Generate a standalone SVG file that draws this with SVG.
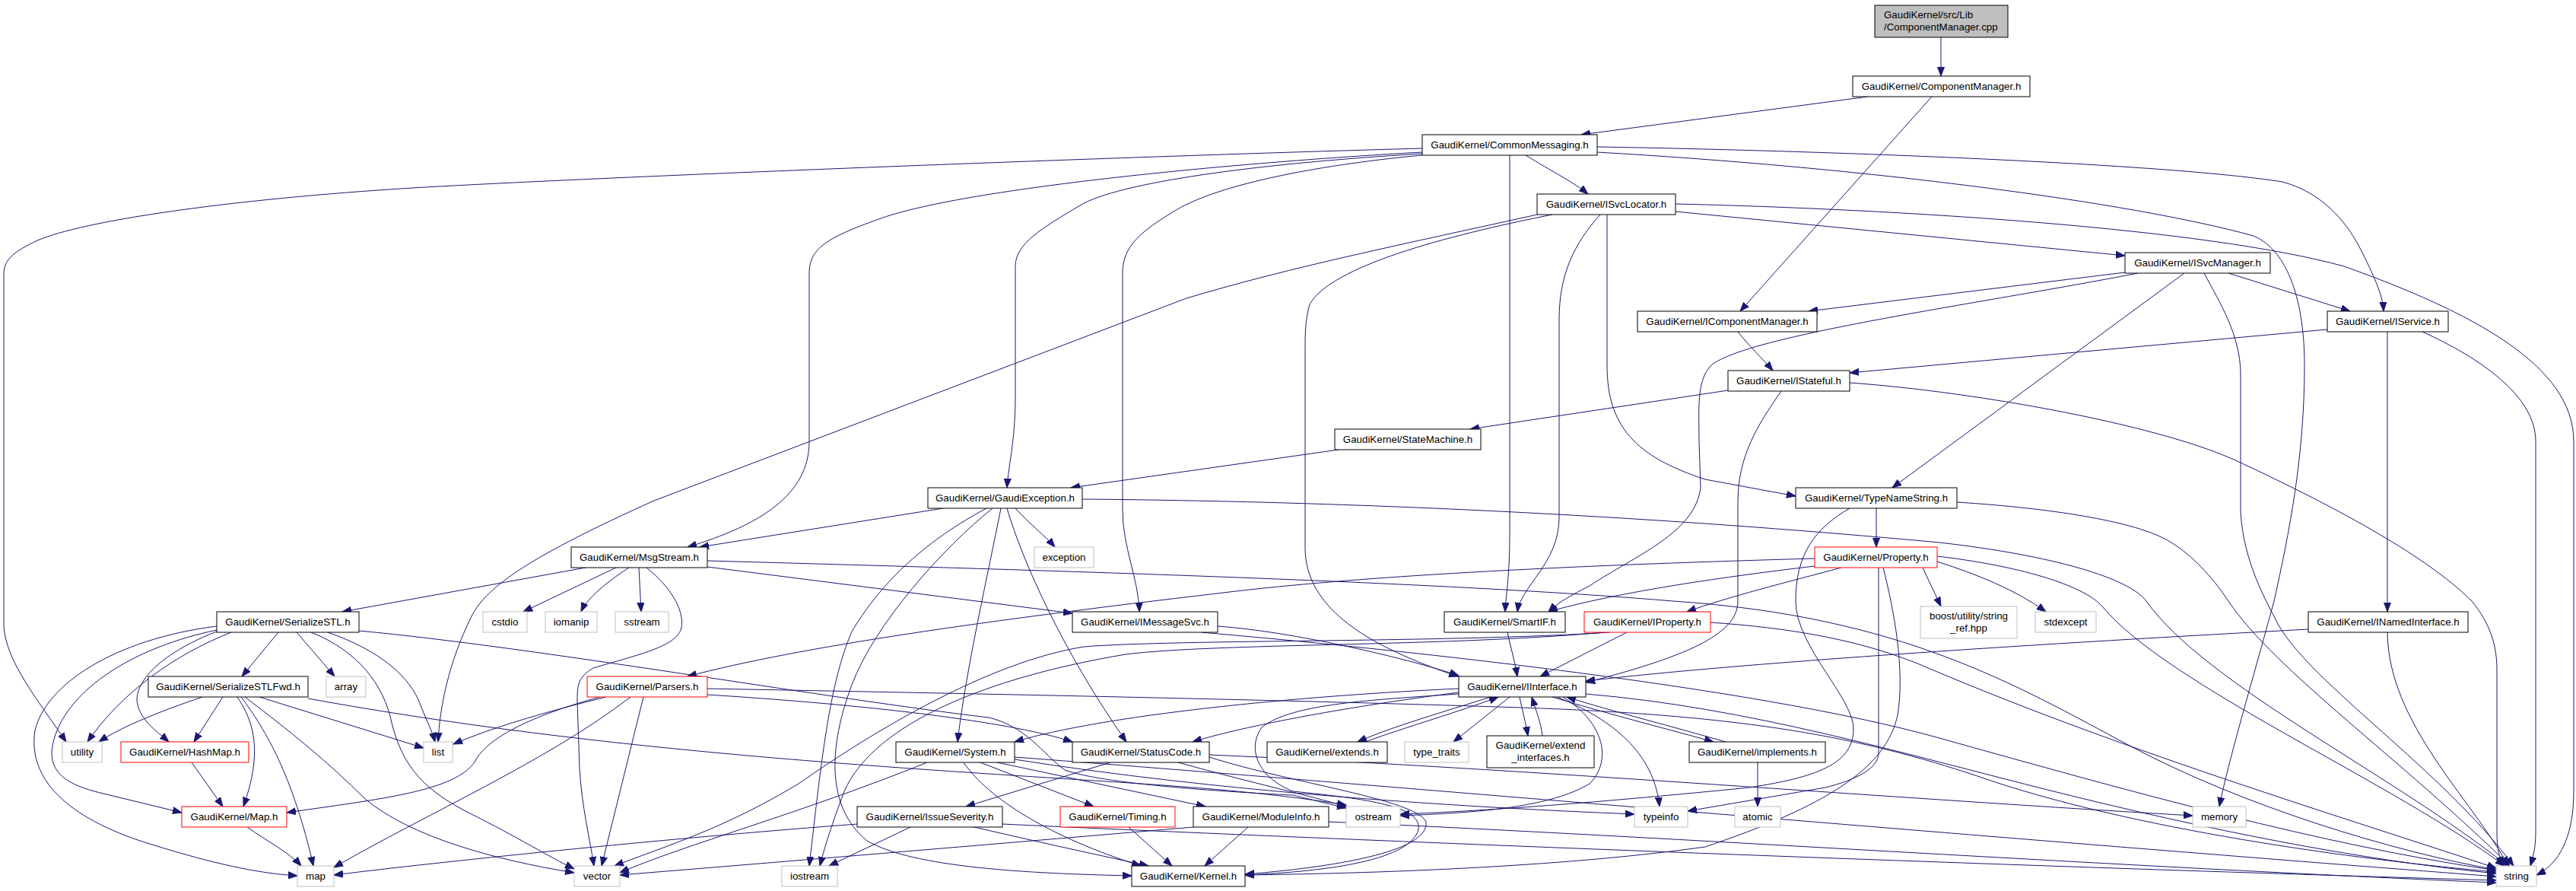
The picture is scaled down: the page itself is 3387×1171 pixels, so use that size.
<svg xmlns="http://www.w3.org/2000/svg" width="3387" height="1171" viewBox="0 0 3387 1171">
<style>
rect{fill:#fff;stroke:#000;stroke-width:1}
.gr rect{stroke:#bfbfbf}
.rd rect{stroke:#ff0000}
.top rect{fill:#bfbfbf;stroke:#000}
text{font-family:"Liberation Sans",Arial,Helvetica,sans-serif;font-size:13.33px;text-anchor:middle;fill:#000}
.top text{text-anchor:start}
#edges path{fill:none;stroke:#191970;stroke-width:1;marker-end:url(#ah)}
</style>
<defs>
<marker id="ah" markerUnits="userSpaceOnUse" markerWidth="13" markerHeight="10" refX="12" refY="5" orient="auto" viewBox="0 0 13 10"><path d="M0,0.5 L12,5 L0,9.5 Z" fill="#191970" stroke="#191970" stroke-width="1"/></marker>
</defs>
<rect x="0" y="0" width="3387" height="1171" style="fill:#fff;stroke:none"/>
<g id="edges">
<path d="M2552,49 L2552,100"/>
<path d="M2456,127 L2079,177"/>
<path d="M2540,127 L2288,409"/>
<path d="M2006,204 C2040,225 2070,240 2088,255"/>
<path d="M1985,204 L1985,700 C1985,760 1980,780 1979,804"/>
<path d="M1870,195 C1500,205 800,232 542,247 C300,262 110,290 49,316 C20,330 5,340 5,360 L5,823 C8,870 50,920 87,975"/>
<path d="M1870,200 C1600,215 1250,250 1150,290 C1080,315 1064,330 1064,360 L1064,580 C1064,650 1000,690 904,719"/>
<path d="M1870,202 C1650,215 1470,240 1420,270 C1370,300 1335,320 1335,350 L1335,520 C1335,580 1326,610 1324,641"/>
<path d="M1870,204 C1750,215 1600,240 1540,280 C1490,310 1476,330 1476,360 L1476,670 C1476,720 1497,760 1498,804"/>
<path d="M2100,193 C2400,198 2850,215 3001,239 C3060,255 3090,300 3105,330 C3125,370 3133,390 3134,409"/>
<path d="M2100,200 C2450,220 2800,265 2963,310 C3010,330 3030,400 3030,480 C3030,600 3010,700 2990,790 C2960,900 2930,1000 2918,1060"/>
<path d="M2021,282 C1850,320 1700,350 1560,392 L860,658 C700,730 640,770 620,810 C590,870 578,930 576,975"/>
<path d="M2041,282 C1900,310 1750,350 1722,400 C1716,420 1716,440 1716,460 L1716,720 C1716,800 1800,850 1917,889"/>
<path d="M2104,282 C2070,320 2050,360 2050,420 L2050,680 C2050,740 2000,770 1995,804"/>
<path d="M2113,282 L2113,480 C2113,560 2150,600 2242,630 L2361,652"/>
<path d="M2203,278 L2794,336"/>
<path d="M2203,268 C2500,275 2900,300 3082,350 C3250,410 3384,480 3384,580 L3384,1040 C3384,1100 3365,1135 3335,1150"/>
<path d="M2794,358 L2378,409"/>
<path d="M2811,359 C2600,400 2300,440 2250,480 C2230,500 2234,540 2234,580 L2236,640 C2230,700 2150,730 2090,770 C2060,785 2045,795 2036,804"/>
<path d="M2872,359 L2488,641"/>
<path d="M2898,359 C2920,400 2945,440 2946,490 L2946,673 C2950,740 2980,790 2995,820 C3040,900 3210,1010 3305,1138"/>
<path d="M2930,359 L3090,409"/>
<path d="M2285,436 C2300,455 2318,472 2331,487"/>
<path d="M3060,433 L2432,490"/>
<path d="M3139,436 L3139,804"/>
<path d="M3185,436 C3260,470 3334,520 3334,580 L3334,1095 C3334,1115 3330,1128 3327,1138"/>
<path d="M2272,513 L1933,564"/>
<path d="M2342,514 C2310,560 2285,600 2285,660 L2285,790 C2285,830 2230,860 2085,897"/>
<path d="M2432,503 C2600,515 2850,560 2950,610 C3100,680 3200,740 3250,790 C3275,820 3283,850 3283,880 L3283,1095 C3283,1115 3287,1128 3290,1138"/>
<path d="M1760,591 L1408,641"/>
<path d="M2467,668 L2467,719"/>
<path d="M2573,660 C2700,668 2800,685 2844,707 C2880,725 2910,760 2930,790 C2990,880 3160,1000 3300,1138"/>
<path d="M2432,668 C2385,695 2361,730 2361,790 C2361,850 2440,920 2437,960 C2435,1000 2400,1020 2300,1035 C2100,1055 1950,1066 1841,1070"/>
<path d="M2386,734 C2100,742 1800,755 1600,780 C1300,815 1050,850 904,889"/>
<path d="M2386,744 C2250,760 2120,780 2036,804"/>
<path d="M2421,746 C2350,765 2270,785 2218,804"/>
<path d="M2470,746 L2470,990 C2470,1010 2440,1025 2400,1035 L2219,1066"/>
<path d="M2476,746 C2490,800 2505,880 2495,940 C2480,1010 2400,1060 2242,1113 C2050,1140 1800,1148 1637,1150"/>
<path d="M2528,746 L2552,797"/>
<path d="M2547,738 C2600,755 2650,775 2690,804"/>
<path d="M2547,731 C2650,743 2740,768 2765,798 C2850,900 3150,1030 3293,1138"/>
<path d="M2249,818 C2350,825 2450,840 2540,880 C2800,990 3100,1080 3282,1141"/>
<path d="M1423,656 C1900,660 2300,690 2550,713 C2700,730 2800,760 2822,790 C2900,900 3150,1020 3297,1138"/>
<path d="M1335,668 C1355,690 1375,705 1387,719"/>
<path d="M1240,668 L920,719"/>
<path d="M1297,668 C1200,720 1150,780 1120,830 C1090,900 1080,1000 1064,1138"/>
<path d="M1305,668 C1240,720 1150,820 1120,900 C1090,980 1085,1060 1140,1105 C1200,1140 1350,1148 1488,1151"/>
<path d="M1316,668 C1300,750 1270,880 1259,975"/>
<path d="M1324,668 C1345,740 1400,860 1481,975"/>
<path d="M770,746 L450,804"/>
<path d="M810,746 L688,804"/>
<path d="M827,746 C790,770 770,790 764,804"/>
<path d="M840,746 L843,804"/>
<path d="M850,746 C880,770 900,800 896,825 C890,850 840,860 780,878 C760,890 759,900 759,920 L762,1010 C765,1060 775,1100 781,1138"/>
<path d="M930,745 L1410,806"/>
<path d="M930,737 C1400,750 1900,765 2200,790 C2500,810 2650,900 2800,980 C2950,1060 3150,1120 3282,1143"/>
<path d="M285,823 C150,840 60,900 46,960 C35,1030 100,1080 200,1110 C280,1135 340,1148 391,1151"/>
<path d="M285,828 C180,850 100,900 75,960 C55,1010 80,1030 136,1043 L239,1068"/>
<path d="M285,830 C220,855 180,890 180,920 C182,945 205,960 222,975"/>
<path d="M304,831 C230,860 160,910 115,975"/>
<path d="M366,831 L318,889"/>
<path d="M390,831 L440,889"/>
<path d="M409,831 C470,855 505,900 515,950 C530,1010 560,1040 620,1070 C680,1100 720,1125 755,1142"/>
<path d="M431,831 C500,855 540,890 553,927 C562,950 568,960 572,975"/>
<path d="M472,829 C700,850 1100,920 1300,943 C1350,955 1370,990 1400,1012 C1450,1030 1600,1040 1700,1045 L1770,1062"/>
<path d="M266,916 C210,935 160,955 130,975"/>
<path d="M293,916 L255,975"/>
<path d="M312,916 C335,950 345,990 320,1060"/>
<path d="M317,916 C350,960 385,1020 412,1138"/>
<path d="M322,916 C380,960 430,1000 480,1050 C540,1100 650,1130 755,1147"/>
<path d="M341,916 L557,983"/>
<path d="M405,918 C800,990 1200,1010 1500,1030 C1650,1040 1720,1050 1770,1058"/>
<path d="M325,1087 C350,1105 380,1120 396,1138"/>
<path d="M252,1002 L293,1060"/>
<path d="M797,916 C720,935 650,955 596,978"/>
<path d="M789,916 C700,940 640,970 625,1000 C600,1040 500,1050 377,1068"/>
<path d="M829,916 C720,1000 560,1070 439,1140"/>
<path d="M846,916 L791,1138"/>
<path d="M930,913 C1200,930 1350,955 1410,975"/>
<path d="M930,905 C1300,912 1700,920 2000,930 C2300,940 2450,970 2600,1020 C2800,1090 3100,1130 3282,1146"/>
<path d="M1127,1083 C900,1100 600,1130 439,1150"/>
<path d="M1197,1087 L1090,1138"/>
<path d="M1281,1087 C1380,1110 1450,1125 1510,1138"/>
<path d="M1318,1083 C1900,1110 2700,1140 3282,1157"/>
<path d="M1267,1002 C1300,1050 1380,1100 1500,1138"/>
<path d="M1289,1002 L1438,1060"/>
<path d="M1311,1002 L1585,1060"/>
<path d="M1219,1002 C1050,1070 900,1110 815,1147"/>
<path d="M1334,998 C1600,1040 1900,1060 2149,1070"/>
<path d="M1334,995 C1800,1030 2600,1100 3282,1152"/>
<path d="M1460,1002 L1270,1060"/>
<path d="M1590,995 C1700,1030 1860,1050 1875,1080 C1880,1120 1750,1140 1637,1149"/>
<path d="M1549,1002 C1650,1030 1720,1045 1770,1060"/>
<path d="M1590,992 C2000,1010 2500,1050 2883,1072"/>
<path d="M1484,1087 L1541,1138"/>
<path d="M1641,1087 L1584,1138"/>
<path d="M1569,1087 C1300,1110 1000,1135 815,1150"/>
<path d="M1747,1080 C2200,1100 2800,1140 3282,1160"/>
<path d="M1918,905 C1700,915 1450,940 1334,975"/>
<path d="M1918,910 C1800,925 1650,950 1568,975"/>
<path d="M1960,916 C1900,935 1830,955 1785,975"/>
<path d="M1795,975 C1850,955 1920,935 1970,916"/>
<path d="M1985,916 L1911,975"/>
<path d="M1998,916 C2002,935 2006,950 2009,967"/>
<path d="M2028,967 C2026,950 2020,935 2014,916"/>
<path d="M2041,916 C2120,940 2200,960 2253,975"/>
<path d="M2269,975 C2200,955 2120,935 2060,916"/>
<path d="M2047,916 C2120,945 2175,990 2182,1060"/>
<path d="M2055,916 C2110,950 2120,1000 2090,1030 C2040,1060 1950,1068 1841,1072"/>
<path d="M1918,912 C1800,920 1700,925 1660,955 C1640,980 1650,1020 1700,1040 C1800,1050 1870,1060 1865,1090 C1855,1130 1750,1145 1637,1150"/>
<path d="M2085,912 C2300,930 2500,990 2700,1040 C2900,1090 3100,1130 3282,1148"/>
<path d="M2311,1002 L2311,1060"/>
<path d="M3035,827 C2700,845 2300,870 2085,895"/>
<path d="M3139,831 C3140,950 3250,1050 3298,1138"/>
<path d="M2139,831 L2025,889"/>
<path d="M1982,831 C1986,850 1992,870 1995,889"/>
<path d="M1601,823 C1700,830 1850,865 1918,888"/>
<path d="M1579,831 C1800,850 2300,900 2550,970 C2800,1040 3050,1110 3282,1144"/>
<path d="M2117,831 C1900,845 1550,840 1425,850 C1300,870 1150,960 1050,1030 C950,1090 880,1110 808,1138"/>
<path d="M2110,831 C1900,850 1600,845 1480,860 C1300,890 1150,950 1110,1040 C1095,1080 1085,1110 1078,1138"/>
</g>
<g id="n_cpp" class="top"><rect x="2465" y="7" width="175" height="42"/><text x="2477" y="24">GaudiKernel/src/Lib</text><text x="2477" y="40">/ComponentManager.cpp</text></g>
<g id="n_cmh"><rect x="2436" y="100" width="233" height="27"/><text x="2552.5" y="118">GaudiKernel/ComponentManager.h</text></g>
<g id="n_cmsg"><rect x="1870" y="177" width="230" height="27"/><text x="1985" y="195">GaudiKernel/CommonMessaging.h</text></g>
<g id="n_isl"><rect x="2021" y="255" width="182" height="27"/><text x="2112" y="273">GaudiKernel/ISvcLocator.h</text></g>
<g id="n_ism"><rect x="2794" y="332" width="191" height="27"/><text x="2889.5" y="350">GaudiKernel/ISvcManager.h</text></g>
<g id="n_icm"><rect x="2153" y="409" width="236" height="27"/><text x="2271" y="427">GaudiKernel/IComponentManager.h</text></g>
<g id="n_isvc"><rect x="3060" y="409" width="159" height="27"/><text x="3139.5" y="427">GaudiKernel/IService.h</text></g>
<g id="n_ist"><rect x="2272" y="487" width="160" height="27"/><text x="2352" y="505">GaudiKernel/IStateful.h</text></g>
<g id="n_sm"><rect x="1755" y="564" width="192" height="27"/><text x="1851" y="582">GaudiKernel/StateMachine.h</text></g>
<g id="n_ge"><rect x="1220" y="641" width="203" height="27"/><text x="1321.5" y="659">GaudiKernel/GaudiException.h</text></g>
<g id="n_tns"><rect x="2361" y="641" width="212" height="27"/><text x="2467" y="659">GaudiKernel/TypeNameString.h</text></g>
<g id="n_exc" class="gr"><rect x="1360" y="719" width="78" height="27"/><text x="1399" y="737">exception</text></g>
<g id="n_ms"><rect x="751" y="719" width="179" height="27"/><text x="840.5" y="737">GaudiKernel/MsgStream.h</text></g>
<g id="n_prop" class="rd"><rect x="2386" y="719" width="161" height="27"/><text x="2466.5" y="737">GaudiKernel/Property.h</text></g>
<g id="n_sstl"><rect x="285" y="804" width="187" height="27"/><text x="378.5" y="822">GaudiKernel/SerializeSTL.h</text></g>
<g id="n_cstdio" class="gr"><rect x="635" y="804" width="58" height="27"/><text x="664" y="822">cstdio</text></g>
<g id="n_iomanip" class="gr"><rect x="717" y="804" width="68" height="27"/><text x="751" y="822">iomanip</text></g>
<g id="n_sstream" class="gr"><rect x="809" y="804" width="70" height="27"/><text x="844" y="822">sstream</text></g>
<g id="n_imsg"><rect x="1410" y="804" width="191" height="27"/><text x="1505.5" y="822">GaudiKernel/IMessageSvc.h</text></g>
<g id="n_sif"><rect x="1899" y="804" width="159" height="27"/><text x="1978.5" y="822">GaudiKernel/SmartIF.h</text></g>
<g id="n_iprop" class="rd"><rect x="2083" y="804" width="166" height="27"/><text x="2166" y="822">GaudiKernel/IProperty.h</text></g>
<g id="n_boost" class="gr"><rect x="2525" y="797" width="127" height="42"/><text x="2588.5" y="814">boost/utility/string</text><text x="2588.5" y="830">_ref.hpp</text></g>
<g id="n_stdexc" class="gr"><rect x="2676" y="804" width="80" height="27"/><text x="2716" y="822">stdexcept</text></g>
<g id="n_inamed"><rect x="3035" y="804" width="210" height="27"/><text x="3140" y="822">GaudiKernel/INamedInterface.h</text></g>
<g id="n_sfwd"><rect x="195" y="889" width="210" height="27"/><text x="300" y="907">GaudiKernel/SerializeSTLFwd.h</text></g>
<g id="n_array" class="gr"><rect x="429" y="889" width="52" height="27"/><text x="455" y="907">array</text></g>
<g id="n_pars" class="rd"><rect x="772" y="889" width="158" height="27"/><text x="851" y="907">GaudiKernel/Parsers.h</text></g>
<g id="n_iif"><rect x="1918" y="889" width="167" height="27"/><text x="2001.5" y="907">GaudiKernel/IInterface.h</text></g>
<g id="n_util" class="gr"><rect x="82" y="975" width="52" height="27"/><text x="108" y="993">utility</text></g>
<g id="n_hmap" class="rd"><rect x="159" y="975" width="168" height="27"/><text x="243" y="993">GaudiKernel/HashMap.h</text></g>
<g id="n_list" class="gr"><rect x="557" y="975" width="38" height="27"/><text x="576" y="993">list</text></g>
<g id="n_sys"><rect x="1178" y="975" width="156" height="27"/><text x="1256" y="993">GaudiKernel/System.h</text></g>
<g id="n_sc"><rect x="1410" y="975" width="180" height="27"/><text x="1500" y="993">GaudiKernel/StatusCode.h</text></g>
<g id="n_ext"><rect x="1666" y="975" width="158" height="27"/><text x="1745" y="993">GaudiKernel/extends.h</text></g>
<g id="n_tt" class="gr"><rect x="1847" y="975" width="84" height="27"/><text x="1889" y="993">type_traits</text></g>
<g id="n_extif"><rect x="1955" y="967" width="141" height="42"/><text x="2025.5" y="984">GaudiKernel/extend</text><text x="2025.5" y="1000">_interfaces.h</text></g>
<g id="n_impl"><rect x="2221" y="975" width="179" height="27"/><text x="2310.5" y="993">GaudiKernel/implements.h</text></g>
<g id="n_maph" class="rd"><rect x="239" y="1060" width="138" height="27"/><text x="308" y="1078">GaudiKernel/Map.h</text></g>
<g id="n_iss"><rect x="1127" y="1060" width="191" height="27"/><text x="1222.5" y="1078">GaudiKernel/IssueSeverity.h</text></g>
<g id="n_tim" class="rd"><rect x="1394" y="1060" width="151" height="27"/><text x="1469.5" y="1078">GaudiKernel/Timing.h</text></g>
<g id="n_mod"><rect x="1569" y="1060" width="178" height="27"/><text x="1658" y="1078">GaudiKernel/ModuleInfo.h</text></g>
<g id="n_ost" class="gr"><rect x="1770" y="1060" width="71" height="27"/><text x="1805.5" y="1078">ostream</text></g>
<g id="n_tinfo" class="gr"><rect x="2149" y="1060" width="70" height="27"/><text x="2184" y="1078">typeinfo</text></g>
<g id="n_atomic" class="gr"><rect x="2281" y="1060" width="60" height="27"/><text x="2311" y="1078">atomic</text></g>
<g id="n_mem" class="gr"><rect x="2883" y="1060" width="70" height="27"/><text x="2918" y="1078">memory</text></g>
<g id="n_map" class="gr"><rect x="391" y="1138" width="48" height="27"/><text x="415" y="1156">map</text></g>
<g id="n_vec" class="gr"><rect x="755" y="1138" width="60" height="27"/><text x="785" y="1156">vector</text></g>
<g id="n_ios" class="gr"><rect x="1028" y="1138" width="73" height="27"/><text x="1064.5" y="1156">iostream</text></g>
<g id="n_kern"><rect x="1488" y="1138" width="149" height="27"/><text x="1562.5" y="1156">GaudiKernel/Kernel.h</text></g>
<g id="n_str" class="gr"><rect x="3282" y="1138" width="53" height="27"/><text x="3308.5" y="1156">string</text></g>
</svg>
